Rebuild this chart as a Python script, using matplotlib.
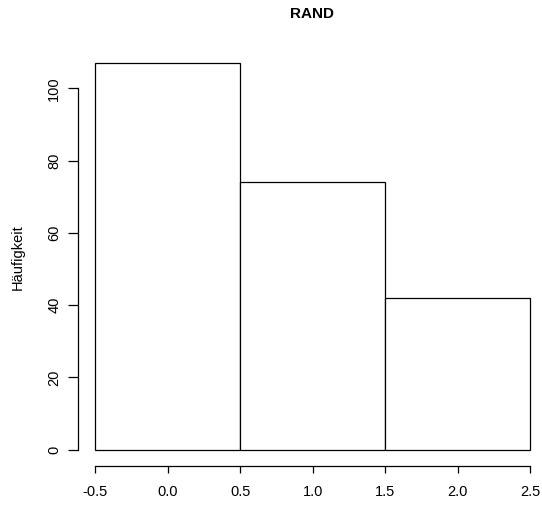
import numpy as np
import matplotlib
matplotlib.use('Agg')
import matplotlib.pyplot as plt

# histogram of RAND: bin edges and counts per bin
bin_edges = [-0.5, 0.5, 1.5, 2.5]
counts = [107, 74, 42]
x_ticks = [-0.5, 0.0, 0.5, 1.0, 1.5, 2.0, 2.5]
y_ticks = [0, 20, 40, 60, 80, 100]

plt.rcParams['font.family'] = ['Liberation Sans', 'DejaVu Sans']

W, H = 542, 509
fig = plt.figure(figsize=(W / 100, H / 100), dpi=100)

# plot region in pixels (R style, 4% padding on the x range)
left_px, right_px = 78.3, 547.0
top_px, bottom_px = 47.5, 466.0
ax = fig.add_axes([left_px / W, 1 - bottom_px / H,
                   (right_px - left_px) / W, (bottom_px - top_px) / H])

edges = np.array(bin_edges)
ax.bar(edges[:-1], counts, width=np.diff(edges), align='edge',
       facecolor='white', edgecolor='black', linewidth=0.9)

ax.set_xlim(-0.615, 2.615)
ax.set_ylim(-4.5, 111.3)

for side in ['top', 'right']:
    ax.spines[side].set_visible(False)
ax.spines['left'].set_bounds(0, 100)
ax.spines['bottom'].set_bounds(-0.5, 2.5)
for side in ['left', 'bottom']:
    ax.spines[side].set_linewidth(0.9)

ax.set_xticks(x_ticks)
ax.set_xticklabels([f'{v:.1f}' for v in x_ticks])
ax.set_yticks(y_ticks)
ax.set_yticklabels([str(v) for v in y_ticks], rotation=90, va='center')

ax.tick_params(axis='x', length=5, width=0.9, pad=8.5, labelsize=10.5)
ax.tick_params(axis='y', length=7.2, width=0.9, pad=5, labelsize=10.5)

fig.text(17.5 / W, 1 - 256.7 / H, 'Häufigkeit', rotation=90,
         ha='center', va='center', fontsize=10.5)
fig.text(312 / W, 1 - 14 / H, 'RAND', ha='center', va='center',
         fontsize=11, fontweight='bold')

fig.savefig('out.png', dpi=100)
